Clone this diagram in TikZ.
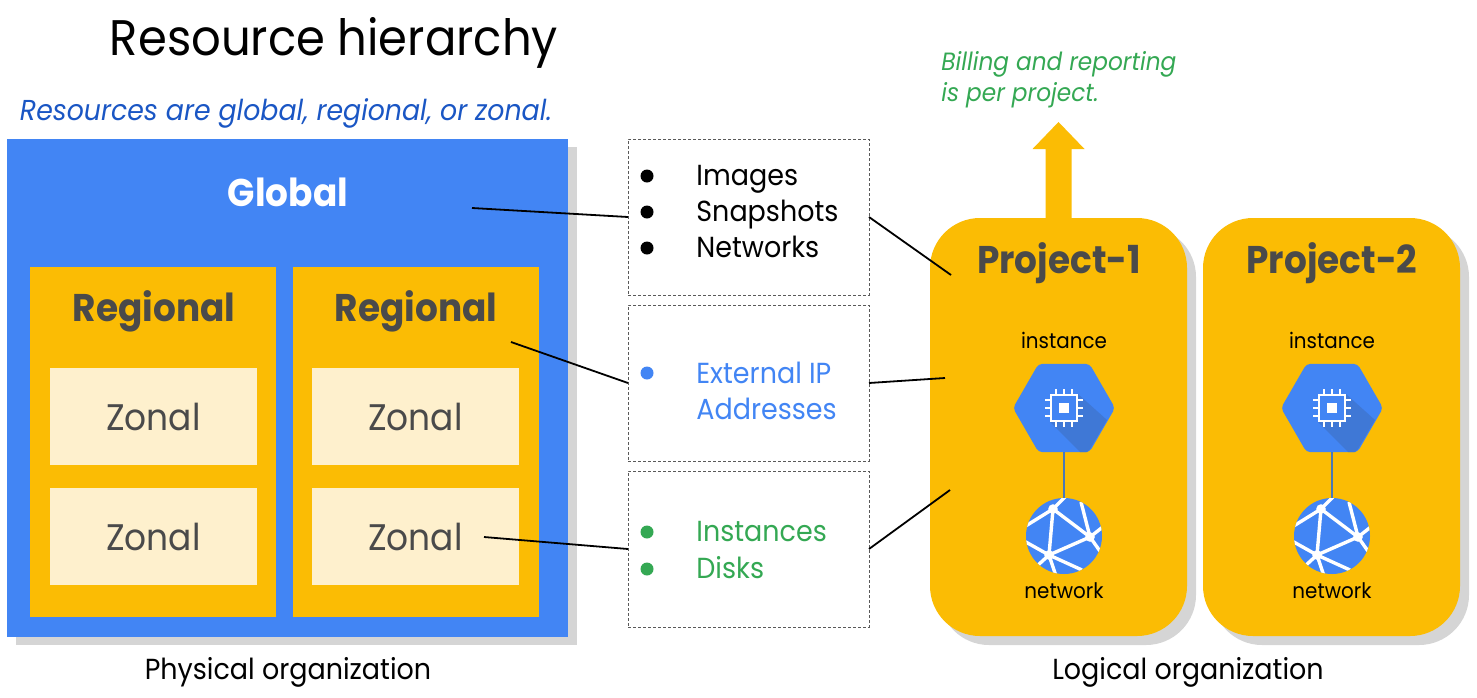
\documentclass[tikz,border=0pt]{standalone}
\usepackage{fontspec}
\setmainfont{Poppins}[FakeStretch=0.93]
\usetikzlibrary{arrows.meta,positioning,shapes.geometric}
\definecolor{gblue}{HTML}{4285F4}
\definecolor{gblueshade}{HTML}{3F78D6}
\definecolor{glink}{HTML}{4A78B8}
\definecolor{gyellow}{HTML}{FBBC04}
\definecolor{gcream}{HTML}{FEF0CD}
\definecolor{ggreen}{HTML}{34A853}
\definecolor{gdark}{HTML}{4A4A4A}
\definecolor{gshadow}{HTML}{D5D5D5}
\definecolor{titleblue}{HTML}{1A56C4}

\begin{document}
\begin{tikzpicture}[
        x=0.5pt, y=-0.5pt,
        % Boxes
        flatbox/.style={rectangle, inner sep=0pt, outer sep=0pt, anchor=north west},
        globalbox/.style={flatbox, fill=gblue, minimum width=280.5pt, minimum height=249pt},
        regionbox/.style={flatbox, fill=gyellow, minimum width=123pt, minimum height=175pt},
        zonalbox/.style={flatbox, fill=gcream, text=gdark, minimum width=103.5pt, minimum height=48.5pt, font=\fontsize{18.5}{22}\selectfont},
        listbox/.style={flatbox, draw=black!65, line width=0.5pt, dash pattern=on 1.5pt off 1pt, minimum width=120.5pt, minimum height=78pt},
        projectbox/.style={flatbox, fill=gyellow, rounded corners=25pt, minimum width=128.5pt, minimum height=209pt},
        projectshadow/.style={projectbox, fill=gshadow},
        hexnode/.style={regular polygon, regular polygon sides=6, fill=gblue, minimum size=51pt, inner sep=0pt, outer sep=0pt, rounded corners=2pt},
        netnode/.style={circle, fill=gblue, minimum size=38pt, inner sep=0pt, outer sep=0pt},
        dotnode/.style={circle, minimum size=6.5pt, inner sep=0pt},
        % Connectors
        leader/.style={black, line width=0.9pt},
        % Labels
        lbl/.style={anchor=base, inner sep=0pt, font=\fontsize{14.5}{17}\selectfont},
        itemlbl/.style={anchor=base west, inner sep=0pt, font=\fontsize{14.5}{17}\selectfont},
        head/.style={anchor=base, inner sep=0pt, font=\fontsize{19.3}{23}\selectfont\bfseries, text=gdark},
        smalllbl/.style={anchor=base, inner sep=0pt, font=\fontsize{10.7}{13}\selectfont}
    ]
    \useasboundingbox (0,0) rectangle (1477,697);

    % Title
    \node[anchor=base, inner sep=0pt, font=\fontsize{25}{30}\selectfont] (title) at (334,55) {Resource hierarchy};
    \node[anchor=base, inner sep=0pt, font=\fontsize{14.4}{17}\selectfont\itshape, text=titleblue] (subtitle) at (286,120) {Resources are global, regional, or zonal.};

    % Physical organization
    \node[flatbox, fill=gshadow, minimum width=280.5pt, minimum height=249pt] (globalshadow) at (16,147) {};
    \node[globalbox] (global) at (7,139) {};
    \node[head, text=white] (globallbl) at (288,206) {Global};
    \node[regionbox] (region1) at (30,267) {};
    \node[regionbox, right=8.5pt of region1.north east, anchor=north west] (region2) {};
    \node[head] (regionlbl1) at (154,321) {Regional};
    \node[head] (regionlbl2) at (416,321) {Regional};

    \node[zonalbox] (zonal1) at (50,368) {Zonal};
    \node[zonalbox, below=11.5pt of zonal1.south west, anchor=north west] (zonal2) {Zonal};
    \node[zonalbox] (zonal3) at (312,368) {Zonal\hspace{5pt}};
    \node[zonalbox, below=11.5pt of zonal3.south west, anchor=north west] (zonal4) {Zonal};
    \node[lbl] (physical) at (288,679) {Physical organization};

    % Resource lists
    \node[listbox] (listglobal) at (628,139) {};
    \node[listbox] (listregion) at (628,305) {};
    \node[listbox] (listzone) at (628,471) {};

    \node[dotnode, fill=black] (dot1) at (647,176) {};
    \node[dotnode, fill=black] (dot2) at (647,212) {};
    \node[dotnode, fill=black] (dot3) at (647,248) {};
    \node[itemlbl] (images) at (696,185) {Images};
    \node[itemlbl] (snapshots) at (696,221) {Snapshots};
    \node[itemlbl] (networks) at (696,257) {Networks};

    \node[dotnode, fill=gblue] (dot4) at (647,373) {};
    \node[itemlbl, text=gblue] (external) at (696,383) {External IP};
    \node[itemlbl, text=gblue] (addresses) at (696,419) {Addresses};

    \node[dotnode, fill=ggreen] (dot5) at (647,532) {};
    \node[dotnode, fill=ggreen] (dot6) at (647,569) {};
    \node[itemlbl, text=ggreen] (instances) at (696,541) {Instances};
    \node[itemlbl, text=ggreen] (disks) at (696,578) {Disks};

    % Logical organization
    \node[projectshadow] (shadow1) at (939,227) {};
    \node[projectshadow] (shadow2) at (1212,227) {};
    \node[projectbox] (project1) at (930,218) {};
    \node[projectbox] (project2) at (1203,218) {};
    \node[head] (projectlbl1) at (1059,273) {Project-1};
    \node[head] (projectlbl2) at (1332,273) {Project-2};
    \node[lbl] (logical) at (1188,679) {Logical organization};

    % Billing arrow
    \fill[gyellow] (project1.north) ++(-13,1) -- ++(0,-70) -- ++(-13,0) -- ++(26,-27) -- ++(26,27) -- ++(-13,0) -- ++(0,70) -- cycle;
    \node[anchor=base west, inner sep=0pt, font=\fontsize{12.5}{15}\selectfont\itshape, text=ggreen] (billing1) at (941,70) {Billing and reporting};
    \node[anchor=base west, inner sep=0pt, font=\fontsize{12.5}{15}\selectfont\itshape, text=ggreen] (billing2) at (941,101) {is per project.};

    % Instance and network icons
    \foreach \px/\n in {1064/1, 1332/2} {
        \node[smalllbl] (instlbl\n) at (\px,348) {instance};
        \node[smalllbl] (netlbl\n) at (\px,598) {network};
        \node[hexnode] (hex\n) at (\px,408) {};
        \node[netnode] (net\n) at (\px,536) {};
        \draw[glink, line width=1.3pt] (hex\n) -- (net\n);
        \begin{scope}[shift={(\px,408)}]
            \fill[gblueshade] (14,-14) -- (43,12) -- (26,41) -- (23,44) -- (16,44) -- (-14,14) -- cycle;
            \fill[gblue] (-14,-14) rectangle (14,14);
            \draw[white, line width=1.2pt] (-13,-13) rectangle (13,13);
            \fill[white] (-5,-5) rectangle (5,5);
            \foreach \t in {-8,0,8} {
                \draw[white, line width=1pt] (\t,-19) -- (\t,-13);
                \draw[white, line width=1pt] (\t,13) -- (\t,19);
                \draw[white, line width=1pt] (-19,\t) -- (-13,\t);
                \draw[white, line width=1pt] (13,\t) -- (19,\t);
            }
        \end{scope}
        \begin{scope}[shift={(\px,536)}]
            \clip (0,0) circle (19pt);
            \draw[white, line width=1.7pt] (-11,-27) -- (26,1) -- (-15,19) -- cycle;
            \draw[white, line width=1.7pt] (-11,-27) -- (2,-40) (-11,-27) -- (-40,-9);
            \draw[white, line width=1.7pt] (-15,19) -- (-40,5) (-15,19) -- (-27,30) (-15,19) -- (-8,40) (-15,19) -- (18,34);
            \draw[white, line width=1.7pt] (26,1) -- (17,-34) (26,1) -- (40,-10) (26,1) -- (38,18);
            \fill[white] (-11,-27) circle (2.4pt) (26,1) circle (2.4pt) (-15,19) circle (2.4pt);
        \end{scope}
    }

    % Leaders
    \coordinate (globalend) at (472,208);
    \coordinate (regionend) at (511,342);
    \coordinate (zonalend) at (484,537);
    \coordinate (projectend1) at (951,275);
    \coordinate (projectend2) at (945,378);
    \coordinate (projectend3) at (950,490);
    \draw[leader] (globalend) -- (listglobal.west);
    \draw[leader] (regionend) -- (listregion.west);
    \draw[leader] (zonalend) -- (listzone.west);
    \draw[leader] (listglobal.east) -- (projectend1);
    \draw[leader] (listregion.east) -- (projectend2);
    \draw[leader] (listzone.east) -- (projectend3);

\end{tikzpicture}
\end{document}
